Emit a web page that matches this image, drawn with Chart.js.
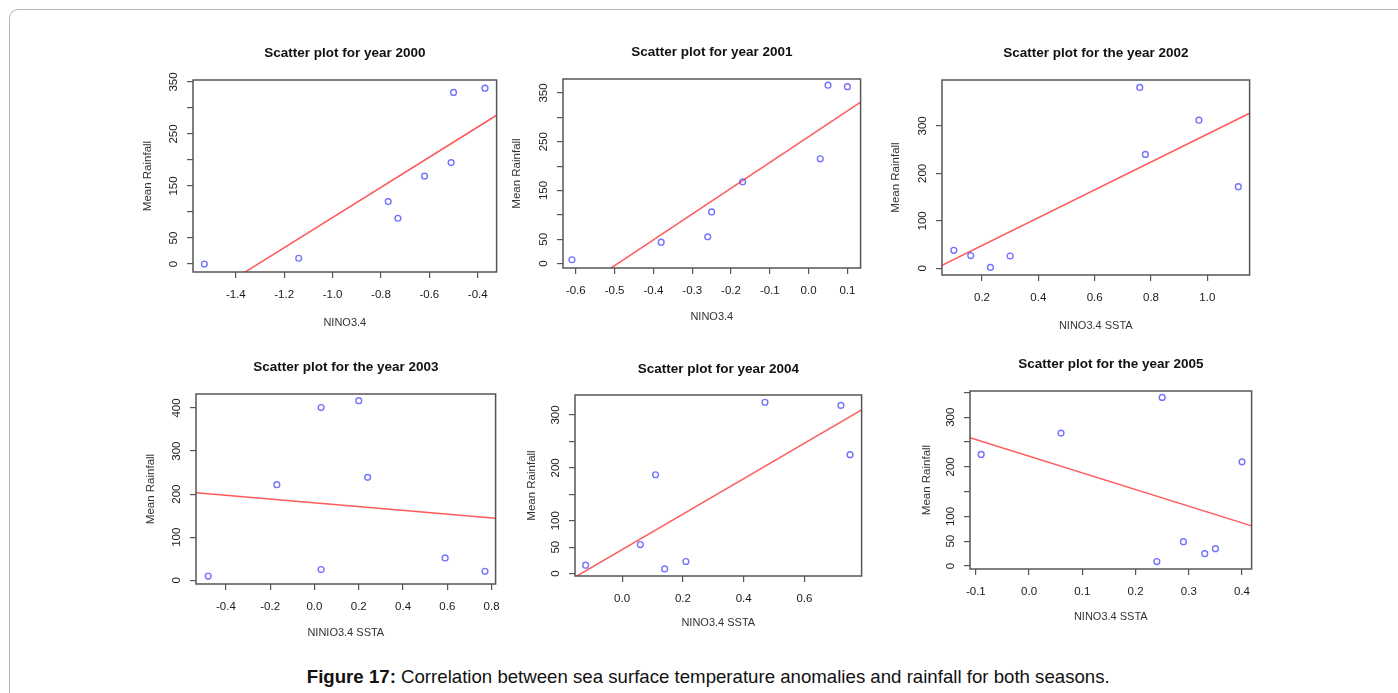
<!DOCTYPE html>
<html>
<head>
<meta charset="utf-8">
<title>Figure 17</title>
<script src="https://cdn.jsdelivr.net/npm/chart.js@4.4.1/dist/chart.umd.min.js"></script>
<style>
  body { margin: 0; background: #fff; width: 1398px; height: 693px; overflow: hidden; position: relative; font-family: "Liberation Sans", Arial, sans-serif; }
  #frame { position: absolute; left: 9px; top: 9px; width: 1500px; height: 800px; border: 1.5px solid #b4b4b4; border-radius: 9px; }
  .panel { position: absolute; }
  #caption { position: absolute; left: 9px; top: 666px; width: 1398px; text-align: center; font-size: 19px; color: #111; white-space: nowrap; }
  #caption span { display: inline-block; transform-origin: center; font-family: "Liberation Sans Narrow", "Liberation Sans", Arial, sans-serif; }
</style>
</head>
<body>
<div id="frame"></div>
<div id="panels"></div>
<div id="caption"><span id="captionText"><b>Figure 17:</b> Correlation between sea surface temperature anomalies and rainfall for both seasons.</span></div>

<script>
// values

// year 2000
const x2000 = [-1.53, -1.14, -0.77, -0.73, -0.62, -0.51, -0.50, -0.37];
const y2000 = [0, 11, 120, 88, 169, 195, 330, 338];
const fitX2000 = [-1.577, -0.322];
const fitY2000 = [-78, 286];
const xRange2000 = [-1.577, -0.322];
const yRange2000 = [-15.4, 353.8];
const xTicks2000 = [-1.4, -1.2, -1.0, -0.8, -0.6, -0.4];
const yTicks2000 = [0, 50, 100, 150, 200, 250, 300, 350];
const yLabels2000 = [0, 50, 150, 250, 350];

// year 2001
const x2001 = [-0.61, -0.38, -0.26, -0.25, -0.17, 0.03, 0.05, 0.10];
const y2001 = [8, 44, 55, 106, 168, 215, 366, 363];
const fitX2001 = [-0.633, 0.134];
const fitY2001 = [-74.5, 331.5];
const xRange2001 = [-0.633, 0.134];
const yRange2001 = [-8.9, 378.7];
const xTicks2001 = [-0.6, -0.5, -0.4, -0.3, -0.2, -0.1, 0.0, 0.1];
const yTicks2001 = [0, 50, 100, 150, 200, 250, 300, 350];
const yLabels2001 = [0, 50, 150, 250, 350];

// year 2002
const x2002 = [0.10, 0.16, 0.23, 0.30, 0.76, 0.78, 0.97, 1.11];
const y2002 = [38, 27, 2, 26, 381, 240, 312, 172];
const fitX2002 = [0.058, 1.150];
const fitY2002 = [6.3, 326.6];
const xRange2002 = [0.058, 1.150];
const yRange2002 = [-14, 396.7];
const xTicks2002 = [0.2, 0.4, 0.6, 0.8, 1.0];
const yTicks2002 = [0, 100, 200, 300];
const yLabels2002 = [0, 100, 200, 300];

// year 2003
const x2003 = [-0.48, -0.17, 0.03, 0.03, 0.20, 0.24, 0.59, 0.77];
const y2003 = [10, 222, 401, 25, 417, 239, 52, 21];
const fitX2003 = [-0.535, 0.818];
const fitY2003 = [203.5, 143.9];
const xRange2003 = [-0.535, 0.818];
const yRange2003 = [-8.5, 432.5];
const xTicks2003 = [-0.4, -0.2, 0.0, 0.2, 0.4, 0.6, 0.8];
const yTicks2003 = [0, 100, 200, 300, 400];
const yLabels2003 = [0, 100, 200, 300, 400];

// year 2004
const x2004 = [-0.12, 0.06, 0.11, 0.14, 0.21, 0.47, 0.72, 0.75];
const y2004 = [16, 55, 187, 9, 23, 324, 318, 225];
const fitX2004 = [-0.155, 0.788];
const fitY2004 = [-6.5, 309.4];
const xRange2004 = [-0.155, 0.788];
const yRange2004 = [-4.4, 337.7];
const xTicks2004 = [0.0, 0.2, 0.4, 0.6];
const yTicks2004 = [0, 50, 100, 150, 200, 250, 300];
const yLabels2004 = [0, 50, 100, 200, 300];

// year 2005
const x2005 = [-0.09, 0.06, 0.25, 0.24, 0.29, 0.33, 0.35, 0.40];
const y2005 = [225, 268, 340, 9, 49, 25, 35, 210];
const fitX2005 = [-0.111, 0.418];
const fitY2005 = [258.5, 81];
const xRange2005 = [-0.111, 0.418];
const yRange2005 = [-6, 352.9];
const xTicks2005 = [-0.1, 0.0, 0.1, 0.2, 0.3, 0.4];
const yTicks2005 = [0, 50, 100, 150, 200, 250, 300, 350];
const yLabels2005 = [0, 50, 100, 200, 300];

const titles = ['Scatter plot for year 2000', 'Scatter plot for year 2001', 'Scatter plot for the year 2002',
                'Scatter plot for the year 2003', 'Scatter plot for year 2004', 'Scatter plot for the year 2005'];
const xTitles = ['NINO3.4', 'NINO3.4', 'NINO3.4 SSTA', 'NINIO3.4 SSTA', 'NINO3.4 SSTA', 'NINO3.4 SSTA'];
const yTitle = 'Mean Rainfall';

// plot box of each panel on the page, and the gaps to its titles
const boxes = [
  { left: 193, top: 80, width: 305, height: 192, xGap: 51, yGap: 45, tGap: 27 },
  { left: 563, top: 79, width: 299, height: 189, xGap: 49, yGap: 46, tGap: 27 },
  { left: 942, top: 80, width: 309, height: 195, xGap: 51, yGap: 46, tGap: 27 },
  { left: 196, top: 394, width: 301, height: 190, xGap: 49, yGap: 45, tGap: 27 },
  { left: 575, top: 395, width: 288, height: 181, xGap: 47, yGap: 43, tGap: 26 },
  { left: 970, top: 391, width: 283, height: 178, xGap: 48, yGap: 43, tGap: 27 }
];

const panels = [
  [x2000, y2000, fitX2000, fitY2000, xRange2000, yRange2000, xTicks2000, yTicks2000, yLabels2000],
  [x2001, y2001, fitX2001, fitY2001, xRange2001, yRange2001, xTicks2001, yTicks2001, yLabels2001],
  [x2002, y2002, fitX2002, fitY2002, xRange2002, yRange2002, xTicks2002, yTicks2002, yLabels2002],
  [x2003, y2003, fitX2003, fitY2003, xRange2003, yRange2003, xTicks2003, yTicks2003, yLabels2003],
  [x2004, y2004, fitX2004, fitY2004, xRange2004, yRange2004, xTicks2004, yTicks2004, yLabels2004],
  [x2005, y2005, fitX2005, fitY2005, xRange2005, yRange2005, xTicks2005, yTicks2005, yLabels2005]
];

const FONT = '"Liberation Sans", Arial, sans-serif';
const AXIS_COLOR = '#555';

// R style box round the plot region
const boxPlugin = {
  id: 'box',
  afterDraw(chart) {
    const { ctx, chartArea: a } = chart;
    ctx.save();
    ctx.strokeStyle = AXIS_COLOR;
    ctx.lineWidth = 1.5;
    ctx.strokeRect(a.left, a.top, a.right - a.left, a.bottom - a.top);
    ctx.restore();
  }
};

// keep the plot box where it is, whatever the label overhang
function fixPadding(axis) {
  axis.paddingLeft = 0;
  axis.paddingRight = 0;
  axis.paddingTop = 0;
  axis.paddingBottom = 0;
}

function makePanel(i) {
  const [xs, ys, fitX, fitY, xRange, yRange, xTicks, yTicks, yLabels] = panels[i];
  const b = boxes[i];
  const yW = b.yGap + 7;      // y axis strip width
  const xH = b.xGap + 7;      // x axis strip height
  const tH = b.tGap + 8;      // title strip height
  const padR = 4;

  const wrap = document.createElement('div');
  wrap.className = 'panel';
  wrap.style.left = (b.left - yW) + 'px';
  wrap.style.top = (b.top - tH) + 'px';
  const canvas = document.createElement('canvas');
  canvas.width = b.width + yW + padR;
  canvas.height = b.height + tH + xH;
  wrap.appendChild(canvas);
  document.getElementById('panels').appendChild(wrap);

  new Chart(canvas, {
    type: 'scatter',
    data: {
      datasets: [{
        label: 'points',
        data: xs.map((x, k) => ({ x: x, y: ys[k] })),
        pointStyle: 'circle',
        pointRadius: 2.9,
        pointBorderWidth: 1.4,
        borderColor: 'rgba(80, 80, 255, 0.8)',
        backgroundColor: 'rgba(0, 0, 0, 0)'
      }, {
        label: 'fit',
        type: 'line',
        data: fitX.map((x, k) => ({ x: x, y: fitY[k] })),
        borderColor: 'rgba(255, 60, 60, 0.85)',
        borderWidth: 1.5,
        pointRadius: 0,
        fill: false
      }]
    },
    options: {
      responsive: false,
      animation: false,
      events: [],
      layout: { padding: { top: 0, right: padR, bottom: 0, left: 0 } },
      plugins: {
        legend: { display: false },
        tooltip: { enabled: false },
        title: {
          display: true,
          text: titles[i],
          fullSize: false,
          color: '#111',
          font: { family: FONT, size: 13.5, weight: 'bold', lineHeight: '16px' },
          padding: { top: 0, bottom: b.tGap - 8 }
        }
      },
      scales: {
        x: {
          type: 'linear',
          bounds: 'data',
          min: xRange[0],
          max: xRange[1],
          afterBuildTicks: axis => { axis.ticks = xTicks.map(v => ({ value: v })); },
          afterFit: axis => { axis.height = xH; fixPadding(axis); },
          ticks: {
            color: '#1a1a1a',
            padding: 10,
            maxRotation: 0,
            autoSkip: false,
            font: { family: FONT, size: 11.5 },
            callback: v => v.toFixed(1)
          },
          grid: { drawOnChartArea: false, drawTicks: true, tickLength: 6, color: AXIS_COLOR, lineWidth: 1.2 },
          border: { display: false },
          title: { display: true, text: xTitles[i], color: '#333', padding: 0, font: { family: FONT, size: 11 } }
        },
        y: {
          type: 'linear',
          bounds: 'data',
          min: yRange[0],
          max: yRange[1],
          afterBuildTicks: axis => { axis.ticks = yTicks.map(v => ({ value: v })); },
          afterFit: axis => { axis.width = yW; fixPadding(axis); },
          ticks: {
            color: '#1a1a1a',
            padding: 4,
            minRotation: 90,
            maxRotation: 90,
            crossAlign: 'center',
            autoSkip: false,
            font: { family: FONT, size: 11.5 },
            callback: v => yLabels.includes(v) ? String(v) : ''
          },
          grid: { drawOnChartArea: false, drawTicks: true, tickLength: 6, color: AXIS_COLOR, lineWidth: 1.2 },
          border: { display: false },
          title: { display: true, text: yTitle, color: '#333', padding: 0, font: { family: FONT, size: 11.5 } }
        }
      }
    },
    plugins: [boxPlugin]
  });
}

for (let i = 0; i < panels.length; i++) makePanel(i);

// squeeze the caption to the width it has in the figure
const cap = document.getElementById('captionText');
const w = cap.getBoundingClientRect().width;
if (w > 0) cap.style.transform = 'scaleX(' + (803 / w).toFixed(3) + ')';
</script>
</body>
</html>
